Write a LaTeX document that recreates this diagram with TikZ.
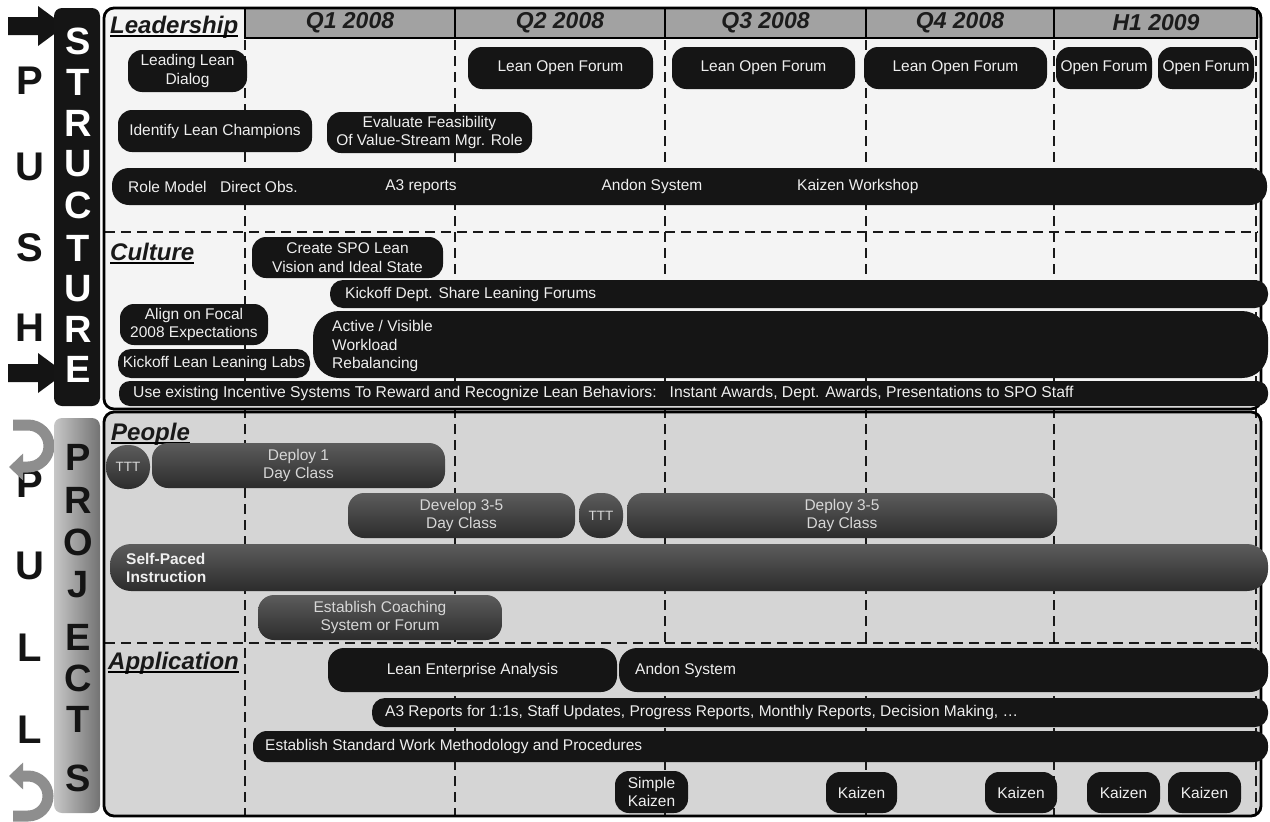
\documentclass[tikz,border=0pt]{standalone}
\usepackage{fontspec}
\setmainfont{Liberation Sans}
\usetikzlibrary{arrows.meta}

\definecolor{boxblack}{HTML}{151515}
\definecolor{boxtext}{HTML}{EFEFEF}
\definecolor{pplhi}{HTML}{5C5C5C}
\definecolor{ppllo}{HTML}{2C2C2C}
\definecolor{structbg}{HTML}{F4F4F4}
\definecolor{projbg}{HTML}{D5D5D5}
\definecolor{hdrgray}{HTML}{A2A2A2}
\definecolor{hdrtext}{HTML}{1C1C1C}
\definecolor{arrowgray}{HTML}{8E8E8E}

\newcommand{\cellfont}{\fontsize{15.5}{18.5}\selectfont}
\newcommand{\widecellfont}{\fontsize{15.7}{18.5}\selectfont}
\newcommand{\ttfontsmall}{\fontsize{13.5}{16}\selectfont}
\newcommand{\pushfont}{\fontsize{40}{40}\selectfont\bfseries}
\newcommand{\sideletterfont}{\fontsize{38}{38}\selectfont\bfseries}
\newcommand{\sectheadfont}{\fontsize{24}{26}\selectfont\bfseries\itshape}
\newcommand{\colheadfont}{\fontsize{23}{25}\selectfont\bfseries\itshape}

\tikzset{
  blk/.style={fill=boxblack, text=boxtext, font=\cellfont, align=center,
    inner sep=0pt, rounded corners=14pt},
  ppl/.style={top color=pplhi, bottom color=ppllo, text=boxtext!90!black,
    font=\cellfont, align=center, inner sep=0pt, rounded corners=16pt},
  bartext/.style={text=boxtext, font=\cellfont, inner sep=0pt, anchor=west, align=left},
  colhead/.style={text=hdrtext, font=\colheadfont, inner sep=0pt},
  secthead/.style={font=\sectheadfont, inner sep=0pt, anchor=base west, text=black!90},
  gridline/.style={line width=2.6pt, dash pattern=on 10pt off 6pt, black!90},
  frameline/.style={line width=2.8pt, rounded corners=10pt},
  pushletter/.style={font=\pushfont, inner sep=0pt, text=black!92},
  structletter/.style={font=\sideletterfont, inner sep=0pt, text=white},
  projletter/.style={font=\sideletterfont, inner sep=0pt, text=black!92},
}

\begin{document}
\begin{tikzpicture}[x=1pt, y=-1pt]
\useasboundingbox (0,0) rectangle (1270,822);
\fill[white] (0,0) rectangle (1270,822);

% ---------- left margin: PUSH / PULL ----------
\fill[black!92] (8,17) -- (38,17) -- (38,6) -- (65,26) -- (38,46) -- (38,35) -- (8,35) -- cycle;
\fill[black!92] (8,364) -- (38,364) -- (38,353) -- (65,373) -- (38,393) -- (38,382) -- (8,382) -- cycle;
\foreach \ch/\yy [count=\i] in {P/81,U/167,S/248,H/328}
  \node[pushletter] (push\i) at (30,\yy) {\ch};
\foreach \ch/\yy [count=\i] in {P/484,U/566,L/648,L/730}
  \node[pushletter] (pull\i) at (30,\yy) {\ch};

\draw[line width=11pt, arrowgray, -{Triangle[length=14pt, width=26pt]}]
  (13,425) -- (28,425) arc[start angle=-90, end angle=90, radius=21] -- (9,467);
\draw[line width=11pt, arrowgray, -{Triangle[length=14pt, width=26pt]}]
  (13,816) -- (28,816) arc[start angle=90, end angle=-90, radius=20] -- (9,776);

% ---------- STRUCTURE / PROJECTS side bars ----------
\fill[boxblack, rounded corners=8pt] (54,8) rectangle (100,406);
\foreach \ch/\yy [count=\i] in {S/41,T/82,R/123,U/164,C/205,T/248,U/289,R/329,E/369}
  \node[structletter] (st\i) at (78,\yy) {\ch};
\shade[left color=black!22, right color=black!55, rounded corners=8pt] (54,418) rectangle (100,813);
\foreach \ch/\yy [count=\i] in {P/457,R/500,O/542,J/585,E/637,C/678,T/719,S/778}
  \node[projletter] (pr\i) at (78,\yy) {\ch};

% ---------- frames ----------
\fill[structbg, rounded corners=10pt] (104,8) rectangle (1261,409);
\fill[projbg, rounded corners=10pt] (104,412) rectangle (1261,816);

% header band
\begin{scope}
  \clip[rounded corners=10pt] (104,8) rectangle (1261,409);
  \fill[hdrgray] (245,8) rectangle (1261,38);
\end{scope}
\draw[line width=2.6pt] (245,8) -- (245,38) -- (1258,38);
\foreach \xx in {455,665,866,1054}
  \draw[line width=2pt] (\xx,8) -- (\xx,38);
\draw[line width=2pt] (1257,8) -- (1257,38);

% time grid
\foreach \xx in {245,455,665,866,1054,1256}
  \draw[gridline] (\xx,40) -- (\xx,815);
\draw[gridline] (105,232) -- (1258,232);
\draw[gridline] (105,643) -- (1258,643);

\draw[frameline] (104,8) rectangle (1261,409);
\draw[frameline] (104,412) rectangle (1261,816);

% column headings
\node[colhead] (hq1) at (350,23) {Q1 2008};
\node[colhead] (hq2) at (560,23) {Q2 2008};
\node[colhead] (hq3) at (765.5,23) {Q3 2008};
\node[colhead] (hq4) at (960,23) {Q4 2008};
\node[colhead] (hh1) at (1156,23) {H1 2009};

% section headings
\node[secthead] (lead) at (110,33) {Leadership};
\draw[line width=1.8pt] ([yshift=-3pt]lead.base west) -- ([yshift=-3pt]lead.base east);
\node[secthead] (cult) at (110,260) {Culture};
\draw[line width=1.8pt] ([yshift=-3pt]cult.base west) -- ([yshift=-3pt]cult.base east);
\node[secthead] (peop) at (111,440) {People};
\draw[line width=1.8pt] ([yshift=-3pt]peop.base west) -- ([yshift=-3pt]peop.base east);
\node[secthead] (appl) at (108,669) {Application};
\draw[line width=1.8pt] ([yshift=-3pt]appl.base west) -- ([yshift=-3pt]appl.base east);

% ---------- Leadership ----------
\node[blk, minimum width=119, minimum height=42] (lld) at (187.5,71) {Leading Lean\\Dialog};
\node[blk, minimum width=185, minimum height=42] (lof2) at (560.5,68) {Lean Open Forum};
\node[blk, minimum width=183, minimum height=42] (lof3) at (763.5,68) {Lean Open Forum};
\node[blk, minimum width=183, minimum height=42] (lof4) at (955.5,68) {Lean Open Forum};
\node[blk, minimum width=96, minimum height=42] (of1) at (1104,68) {Open Forum};
\node[blk, minimum width=96, minimum height=42] (of2) at (1206,68) {Open Forum};
\node[blk, minimum width=194, minimum height=42] (ilc) at (215,131) {Identify Lean Champions};
\node[blk, minimum width=205, minimum height=41] (evf) at (429.5,132.5) {Evaluate Feasibility\\Of Value-Stream Mgr. Role};
\node[blk, minimum width=1155, minimum height=37, rounded corners=17pt] (role) at (689.5,186.5) {};
\node[bartext] (role1) at (128,186.5) {Role Model};
\node[bartext] (role2) at (220,186.5) {Direct Obs.};
\node[bartext, anchor=center] (role3) at (421,186.5) {A3 reports};
\node[bartext, anchor=center] (role4) at (652,186.5) {Andon System};
\node[bartext] (role5) at (797,186.5) {Kaizen Workshop};

% ---------- Culture ----------
\node[blk, minimum width=191, minimum height=41] (spo) at (347.5,257.5) {Create SPO Lean\\Vision and Ideal State};
\node[blk, minimum width=938, minimum height=28, rounded corners=13pt] (kdf) at (799,294) {};
\node[bartext] (kdft) at (345,294) {Kickoff Dept. Share Leaning Forums};
\node[blk, minimum width=148, minimum height=41] (afe) at (194,324.5) {Align on Focal\\2008 Expectations};
\node[blk, minimum width=955, minimum height=67, rounded corners=26pt] (avw) at (790.5,344.5) {};
\node[bartext] (avwt) at (332,346) {Active / Visible\\Workload\\Rebalancing};
\node[blk, minimum width=192, minimum height=29, rounded corners=13pt] (kll) at (214,363.5) {Kickoff Lean Leaning Labs};
\node[blk, minimum width=1149, minimum height=25, rounded corners=11pt] (inc) at (693.5,393.5) {};
\node[bartext, font=\widecellfont] (inct) at (133,393.5) {Use existing Incentive Systems To Reward and Recognize Lean Behaviors:\hspace*{13pt}Instant Awards, Dept. Awards, Presentations to SPO Staff};

% ---------- People ----------
\node[ppl, minimum width=44, minimum height=44, rounded corners=21pt, font=\ttfontsmall] (ttt1) at (128,467) {TTT};
\node[ppl, minimum width=293, minimum height=45] (dep1) at (298.5,465.5) {Deploy 1\\Day Class};
\node[ppl, minimum width=227, minimum height=45] (dev35) at (461.5,515.5) {Develop 3-5\\Day Class};
\node[ppl, minimum width=44, minimum height=45, rounded corners=20pt, font=\ttfontsmall] (ttt2) at (601,515.5) {TTT};
\node[ppl, minimum width=430, minimum height=45] (dep35) at (842,515.5) {Deploy 3-5\\Day Class};
\node[ppl, minimum width=1158, minimum height=47, rounded corners=21pt] (spi) at (689,567.5) {};
\node[bartext, font=\cellfont\bfseries] (spit) at (126,568) {Self-Paced\\Instruction};
\node[ppl, minimum width=244, minimum height=45] (coach) at (380,617.5) {Establish Coaching\\System or Forum};

% ---------- Application ----------
\node[blk, minimum width=289, minimum height=44, rounded corners=16pt] (lea) at (472.5,670) {Lean Enterprise Analysis};
\node[blk, minimum width=649, minimum height=44, rounded corners=18pt] (andon) at (943.5,670) {};
\node[bartext] (andont) at (635,670) {Andon System};
\node[blk, minimum width=896, minimum height=29, rounded corners=13pt] (a3) at (820,712.5) {};
\node[bartext] (a3t) at (385,712.5) {A3 Reports for 1:1s, Staff Updates, Progress Reports, Monthly Reports, Decision Making, \ldots};
\node[blk, minimum width=1015, minimum height=31, rounded corners=14pt] (esw) at (760.5,746.5) {};
\node[bartext] (eswt) at (265,746.5) {Establish Standard Work Methodology and Procedures};
\node[blk, minimum width=73, minimum height=42] (sk) at (651.5,792) {Simple\\Kaizen};
\node[blk, minimum width=71, minimum height=41] (kz1) at (861.5,792.5) {Kaizen};
\node[blk, minimum width=72, minimum height=41] (kz2) at (1021,792.5) {Kaizen};
\node[blk, minimum width=73, minimum height=41] (kz3) at (1123.5,792.5) {Kaizen};
\node[blk, minimum width=73, minimum height=41] (kz4) at (1204.5,792.5) {Kaizen};
\end{tikzpicture}
\end{document}
